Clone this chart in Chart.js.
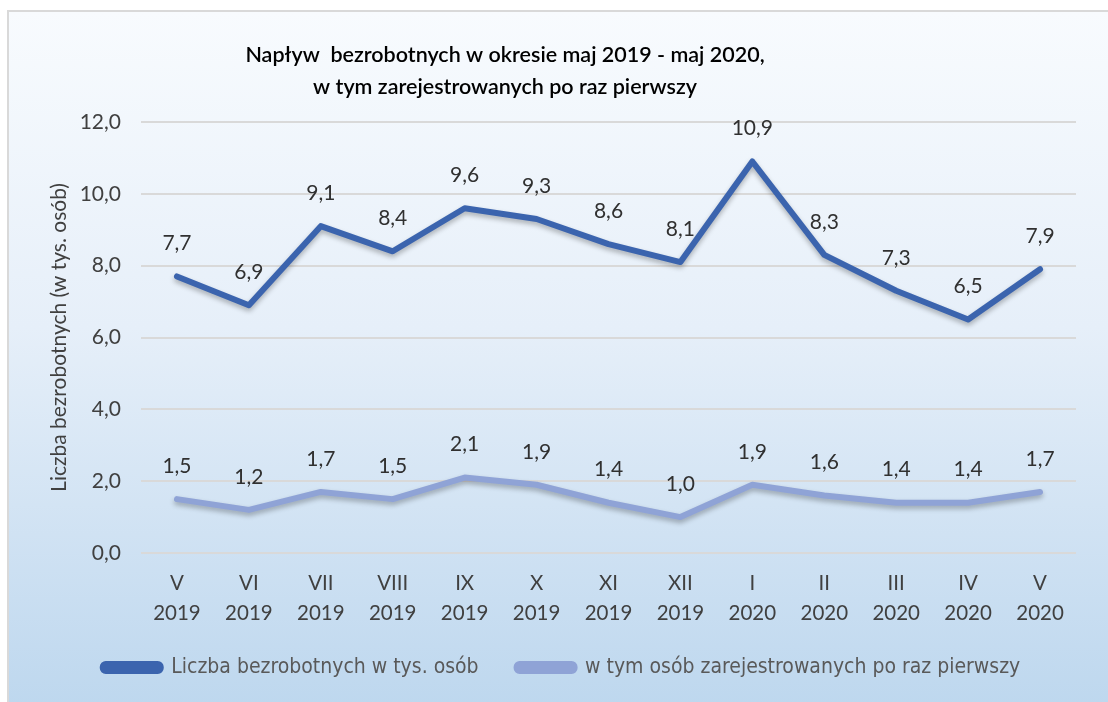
<!DOCTYPE html>
<html lang="pl">
<head>
<meta charset="UTF-8">
<title>Napływ bezrobotnych</title>
<script src="https://cdn.jsdelivr.net/npm/chart.js"></script>
<style>
  html, body { margin: 0; padding: 0; background: #fff; }
  #box {
    position: absolute; left: 7px; top: 10px; width: 1110px; height: 700px;
    border-left: 2px solid #d9d9d9; border-top: 2px solid #d9d9d9;
    background: linear-gradient(to bottom, #f8fbfe 0%, #e6eff9 45%, #bdd7ee 100%);
  }
  #wrap { position: absolute; left: 0; top: 0; width: 1108px; height: 702px; }
</style>
</head>
<body>
<div id="box"></div>
<div id="wrap"><canvas id="c"></canvas></div>
<script>
const months = ['V', 'VI', 'VII', 'VIII', 'IX', 'X', 'XI', 'XII', 'I', 'II', 'III', 'IV', 'V'];
const years = ['2019', '2019', '2019', '2019', '2019', '2019', '2019', '2019', '2020', '2020', '2020', '2020', '2020'];
const bezrobotni = [7.7, 6.9, 9.1, 8.4, 9.6, 9.3, 8.6, 8.1, 10.9, 8.3, 7.3, 6.5, 7.9];
const poRazPierwszy = [1.5, 1.2, 1.7, 1.5, 2.1, 1.9, 1.4, 1.0, 1.9, 1.6, 1.4, 1.4, 1.7];
const titleLines = ['Napływ  bezrobotnych w okresie maj 2019 - maj 2020,', 'w tym zarejestrowanych po raz pierwszy'];

const txt = '#404040';
const fontMain = "Lato, 'Open Sans', sans-serif";

// tytuł rysowany ręcznie (w oryginale jest przesunięty w lewo)
const titlePlugin = {
    id: 'manualTitle',
    afterDraw(chart) {
        const ctx = chart.ctx;
        ctx.save();
        ctx.font = '600 21.5px ' + fontMain;
        ctx.fillStyle = '#000';
        ctx.textAlign = 'center';
        ctx.textBaseline = 'middle';
        ctx.fillText(titleLines[0], 505, 55);
        ctx.fillText(titleLines[1], 505, 87);
        ctx.restore();
    }
};

// cień pod liniami
const shadowPlugin = {
    id: 'shadow',
    beforeDatasetsDraw(chart) {
        const ctx = chart.ctx;
        ctx.save();
        ctx.shadowColor = 'rgba(0,0,0,0.28)';
        ctx.shadowBlur = 5;
        ctx.shadowOffsetY = 3;
    },
    afterDatasetsDraw(chart) {
        chart.ctx.restore();
    }
};

// etykiety wartości nad punktami
const labelsPlugin = {
    id: 'valueLabels',
    afterDatasetsDraw(chart) {
        const ctx = chart.ctx;
        ctx.save();
        ctx.font = '21px ' + fontMain;
        ctx.fillStyle = '#303030';
        ctx.textAlign = 'center';
        ctx.textBaseline = 'middle';
        chart.data.datasets.forEach((ds, i) => {
            chart.getDatasetMeta(i).data.forEach((pt, j) => {
                const v = ds.data[j].toFixed(1).replace('.', ',');
                ctx.fillText(v, pt.x, pt.y - 33);
            });
        });
        ctx.restore();
    }
};

new Chart(document.getElementById('c'), {
    type: 'line',
    data: {
        labels: months.map((m, i) => [m, years[i]]),
        datasets: [{
            label: 'Liczba bezrobotnych w tys. osób ',
            data: bezrobotni,
            borderColor: '#3b64ae',
            backgroundColor: '#3b64ae',
            borderWidth: 6,
            pointRadius: 0,
            borderJoinStyle: 'round',
            borderCapStyle: 'round'
        }, {
            label: 'w tym osób zarejestrowanych po raz pierwszy',
            data: poRazPierwszy,
            borderColor: '#8fa3d6',
            backgroundColor: '#8fa3d6',
            borderWidth: 6,
            pointRadius: 0,
            borderJoinStyle: 'round',
            borderCapStyle: 'round'
        }]
    },
    options: {
        responsive: true,
        maintainAspectRatio: false,
        animation: false,
        layout: { padding: { left: 47, right: 32, top: 122, bottom: 14 } },
        plugins: {
            title: { display: false },
            legend: {
                position: 'bottom',
                labels: {
                    color: '#595959',
                    font: { family: "'Liberation Sans Narrow', 'DejaVu Sans Condensed', sans-serif", size: 21 },
                    boxWidth: 58,
                    boxHeight: 7,
                    useBorderRadius: true,
                    borderRadius: 3,
                    padding: 32
                }
            },
            tooltip: { enabled: false }
        },
        scales: {
            x: {
                offset: true,
                afterFit(s) { s.height = 72; },
                grid: { display: false },
                border: { display: false },
                ticks: { color: txt, font: { family: fontMain, size: 20.5, lineHeight: 1.45 }, maxRotation: 0, padding: 8 }
            },
            y: {
                min: 0,
                max: 12,
                afterFit(s) { s.width = 94; },
                grid: { color: '#d9d9d9', lineWidth: 2, drawTicks: false },
                border: { display: false },
                ticks: {
                    stepSize: 2,
                    color: txt,
                    padding: 20,
                    font: { family: fontMain, size: 21 },
                    callback: v => v.toFixed(1).replace('.', ',')
                },
                title: {
                    display: true,
                    text: 'Liczba bezrobotnych (w tys. osób)',
                    color: txt,
                    font: { family: fontMain, size: 21 },
                    padding: 0
                }
            }
        }
    },
    plugins: [shadowPlugin, labelsPlugin, titlePlugin]
});
</script>
</body>
</html>
